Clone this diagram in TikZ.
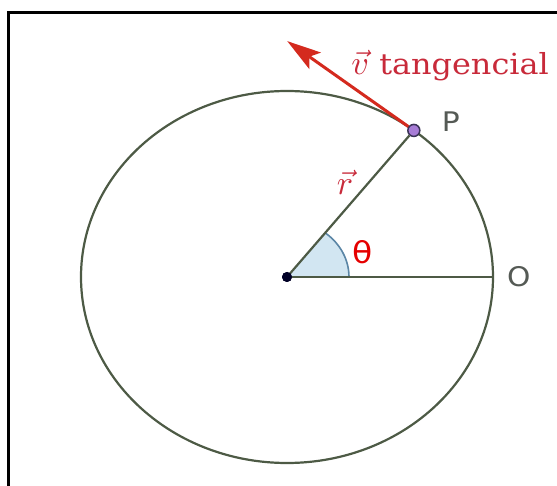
\documentclass[tikz,border=0pt]{standalone}
\usepackage{graphicx}
\usepackage{fontspec}
\usetikzlibrary{arrows.meta,positioning,calc}
\newfontfamily\tagserif[FakeStretch=1.1]{DejaVu Serif}
\newfontfamily\tagsans[FakeStretch=1.1]{DejaVu Sans}
\definecolor{OrbitGreen}{HTML}{4D5A45}
\definecolor{VecRed}{HTML}{D42A1E}
\definecolor{LabelRed}{HTML}{C82A3A}
\definecolor{AngleBlue}{HTML}{D2E6F2}
\definecolor{AngleEdge}{HTML}{5B86A6}
\definecolor{PointViolet}{HTML}{A77CD6}
\definecolor{PointEdge}{HTML}{3B3358}
\definecolor{LabelGray}{HTML}{555A55}
\newcommand{\bigvec}[1]{{\fontsize{10}{12}\selectfont\scalebox{3.4}{$\vec{#1}$}}}

\begin{document}
\begin{tikzpicture}[
  x=1pt, y=1pt,
  orbit/.style={draw=OrbitGreen,line width=2.2pt},
  spoke/.style={draw=OrbitGreen,line width=2.2pt},
  velocity/.style={-{Stealth[length=34pt,width=20pt,inset=7pt]},line width=3pt,VecRed},
  centredot/.style={circle,fill=black!85!blue,inner sep=0pt,minimum size=10pt},
  movingpt/.style={circle,draw=PointEdge,fill=PointViolet,line width=1.5pt,inner sep=0pt,minimum size=12pt},
  pointlabel/.style={inner sep=0pt,text=LabelGray,font=\tagsans\fontsize{27}{32}\selectfont},
  redlabel/.style={inner sep=0pt,text=LabelRed}
]
  \useasboundingbox (0,0) rectangle (557,485);
  % frame
  \draw[line width=3pt] (560,472.5) -- (8.5,472.5) -- (8.5,-3);

  \coordinate (c) at (287,208);
  \coordinate (p) at ($(c)+({206*cos(52)},{186*sin(52)})$);
  \coordinate (o) at ($(c)+(206,0)$);
  \coordinate (tip) at ($(p)+(-126.6,89.3)$);

  \draw[orbit] (c) ellipse [x radius=206, y radius=186];

  % angle theta
  \fill[AngleBlue] (c) -- ++(62,0) arc[start angle=0, end angle=52, x radius=62, y radius=56] -- cycle;
  \draw[AngleEdge,line width=1.6pt] ($(c)+(62,0)$) arc[start angle=0, end angle=52, x radius=62, y radius=56];

  \node[centredot] (cd) at (c) {};
  \node[movingpt] (pp) at (p) {};

  \draw[spoke] (cd.center) -- (o);
  \draw[spoke] (cd.center) -- (pp);
  \draw[velocity] (pp) -- (tip);

  \node[centredot] at (c) {};

  % labels
  \node[pointlabel, right=21pt of pp, yshift=9pt] (plabel) {P};
  \node[pointlabel, right=14pt of o] (olabel) {O};
  \node[redlabel, anchor=base east, font=\tagserif\fontsize{29}{34}\selectfont] (vlabel) at (549,410) {\bigvec{v} tangencial};
  \node[redlabel] (rlabel) at (345,303) {\bigvec{r}};
  \node[redlabel, text=red!90!black, font=\tagsans\fontsize{30}{36}\selectfont] (thlabel) at (363,233) {θ};
\end{tikzpicture}
\end{document}
